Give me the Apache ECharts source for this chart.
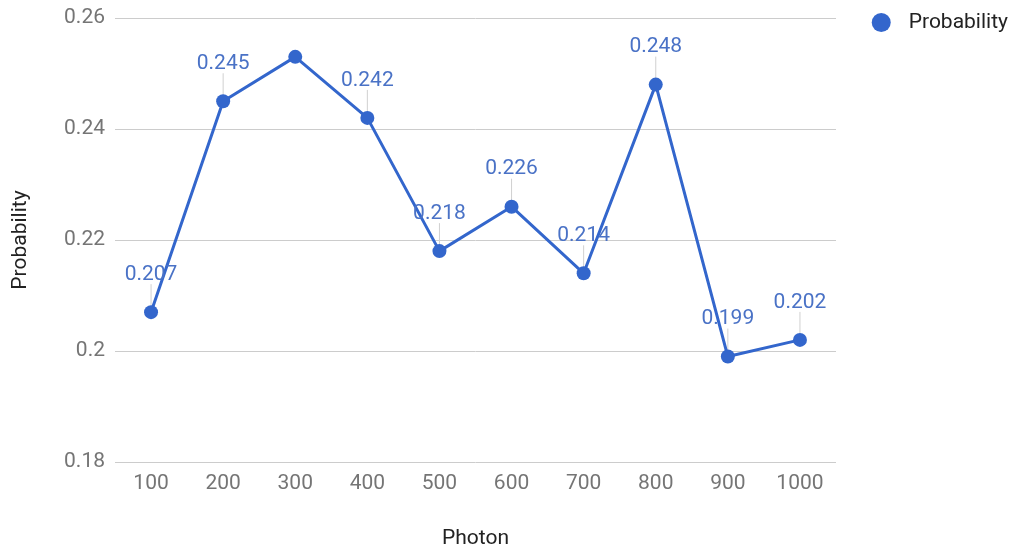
<!DOCTYPE html>
<html>
<head>
<meta charset="utf-8">
<script src="https://cdn.jsdelivr.net/npm/echarts@6/dist/echarts.min.js"></script>
<style>
  html, body { margin: 0; padding: 0; background: #fff; }
  #chart { width: 1014px; height: 551px; }
</style>
</head>
<body>
<div id="chart"></div>
<script>
// Photon count vs. measured probability
const photons = ['100', '200', '300', '400', '500', '600', '700', '800', '900', '1000'];
const probability = [0.207, 0.245, 0.253, 0.242, 0.218, 0.226, 0.214, 0.248, 0.199, 0.202];
// Points whose value annotation is shown
const annotated = [true, true, false, true, true, true, true, true, true, true];
const yTicks = { min: 0.18, max: 0.26, step: 0.02 };

const BLUE = '#3366cc';
const FONT = 'Roboto, "Noto Sans", sans-serif';
const FS = 21;

const chart = echarts.init(document.getElementById('chart'));

const lineData = probability.map((v, i) => ({
  value: v,
  label: { show: annotated[i] }
}));

chart.setOption({
  animation: false,
  textStyle: { fontFamily: FONT },
  grid: { left: 115, right: 178, top: 18, bottom: 89, containLabel: false, outerBoundsMode: 'none' },
  legend: {
    data: [{ name: 'Probability', icon: 'circle' }],
    right: 1, top: 7,
    itemWidth: 19, itemHeight: 19, itemGap: 10,
    textStyle: { fontSize: FS, color: '#222', fontFamily: FONT, padding: [0, 0, 0, 13] }
  },
  xAxis: {
    type: 'category',
    data: photons,
    boundaryGap: true,
    name: 'Photon',
    nameLocation: 'middle',
    nameGap: 66,
    nameTextStyle: { fontSize: FS, color: '#222', fontFamily: FONT },
    axisLine: { show: false },
    axisTick: { show: false },
    axisLabel: { fontSize: FS, color: '#757575', margin: 11, fontFamily: FONT }
  },
  yAxis: {
    type: 'value',
    min: yTicks.min, max: yTicks.max, interval: yTicks.step,
    name: 'Probability',
    nameLocation: 'middle',
    nameGap: 84,
    nameTextStyle: { fontSize: FS, color: '#222', fontFamily: FONT },
    axisLine: { show: false },
    axisTick: { show: false },
    axisLabel: { fontSize: FS, color: '#757575', margin: 10, fontFamily: FONT },
    splitLine: { lineStyle: { color: '#cccccc', width: 1 } }
  },
  series: [
    {
      // thin stems joining each annotated point to its value label
      name: 'stems',
      type: 'custom',
      silent: true,
      z: 1,
      data: probability.map((v, i) => [i, v, annotated[i] ? 1 : 0]),
      renderItem: function (params, api) {
        if (!api.value(2)) return null;
        const p = api.coord([api.value(0), api.value(1)]);
        return {
          type: 'line',
          shape: { x1: p[0], y1: p[1] - 6, x2: p[0], y2: p[1] - 28 },
          style: { stroke: '#d0d0d0', lineWidth: 1 }
        };
      }
    },
    {
      name: 'Probability',
      type: 'line',
      z: 3,
      data: lineData,
      symbol: 'circle',
      symbolSize: 14,
      itemStyle: { color: BLUE },
      lineStyle: { color: BLUE, width: 3 },
      label: {
        position: 'top',
        distance: 20,
        fontSize: FS,
        color: '#4a72c6',
        fontFamily: FONT,
        formatter: p => String(p.value)
      }
    }
  ]
});
</script>
</body>
</html>
